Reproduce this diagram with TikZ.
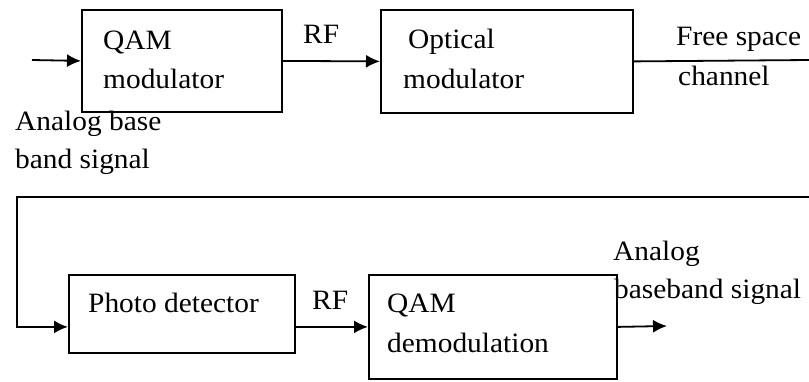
\documentclass[tikz,border=0pt]{standalone}
\usepackage{fontspec}
\setmainfont[FakeStretch=1.05]{Liberation Serif}
\usetikzlibrary{arrows.meta}
\begin{document}
\begin{tikzpicture}[x=1pt,y=-1pt,
  blk/.style={draw,line width=1.8pt,rectangle,inner sep=0pt,anchor=north west},
  lbl/.style={anchor=base west,inner sep=0pt,font=\fontsize{28}{32}\selectfont},
  conn/.style={line width=1.8pt},
  arr/.style={conn,-{Latex[length=14pt,width=13pt]}}]
\useasboundingbox (0,0) rectangle (809,381);
% boxes
\node[blk,minimum width=200pt,minimum height=102pt] (qm) at (81,9) {};
\node[blk,minimum width=252pt,minimum height=103pt] (om) at (380,9) {};
\node[blk,minimum width=226pt,minimum height=78pt] (pd) at (68,274) {};
\node[blk,minimum width=248pt,minimum height=104pt] (qd) at (368,274) {};
% labels
\node[lbl] (t1) at (103,49) {QAM};
\node[lbl] (t2) at (103,88) {modulator};
\node[lbl] (t3) at (303,43) {RF};
\node[lbl] (t4) at (408,48) {Optical};
\node[lbl] (t5) at (403,88) {modulator};
\node[lbl] (t6) at (676,45) {Free space};
\node[lbl] (t7) at (678,85) {channel};
\node[lbl] (t8) at (15,130) {Analog base};
\node[lbl] (t9) at (15,168) {band signal};
\node[lbl] (t10) at (88,312) {Photo detector};
\node[lbl] (t11) at (312,309) {RF};
\node[lbl] (t12) at (387,312) {QAM};
\node[lbl] (t13) at (387,352) {demodulation};
\node[lbl] (t14) at (613,260) {Analog};
\node[lbl] (t15) at (614,298) {baseband signal};
% coordinates
\coordinate (in) at (32,60);
\coordinate (r1) at (809,60);
\coordinate (r2) at (809,197);
\coordinate (lc) at (17,197);
\coordinate (out) at (667,326);
% connectors
\draw[arr] (in) -- (qm.west);
\draw[arr] (qm.east) -- (om.west);
\draw[conn] (om.east) -- (r1);
\draw[arr] (r2) -- (lc) -- (lc |- qd.west) -- (pd.west |- qd.west);
\draw[arr] (pd.east |- qd.west) -- (qd.west);
\draw[arr] (qd.east) -- (out);
\end{tikzpicture}
\end{document}
